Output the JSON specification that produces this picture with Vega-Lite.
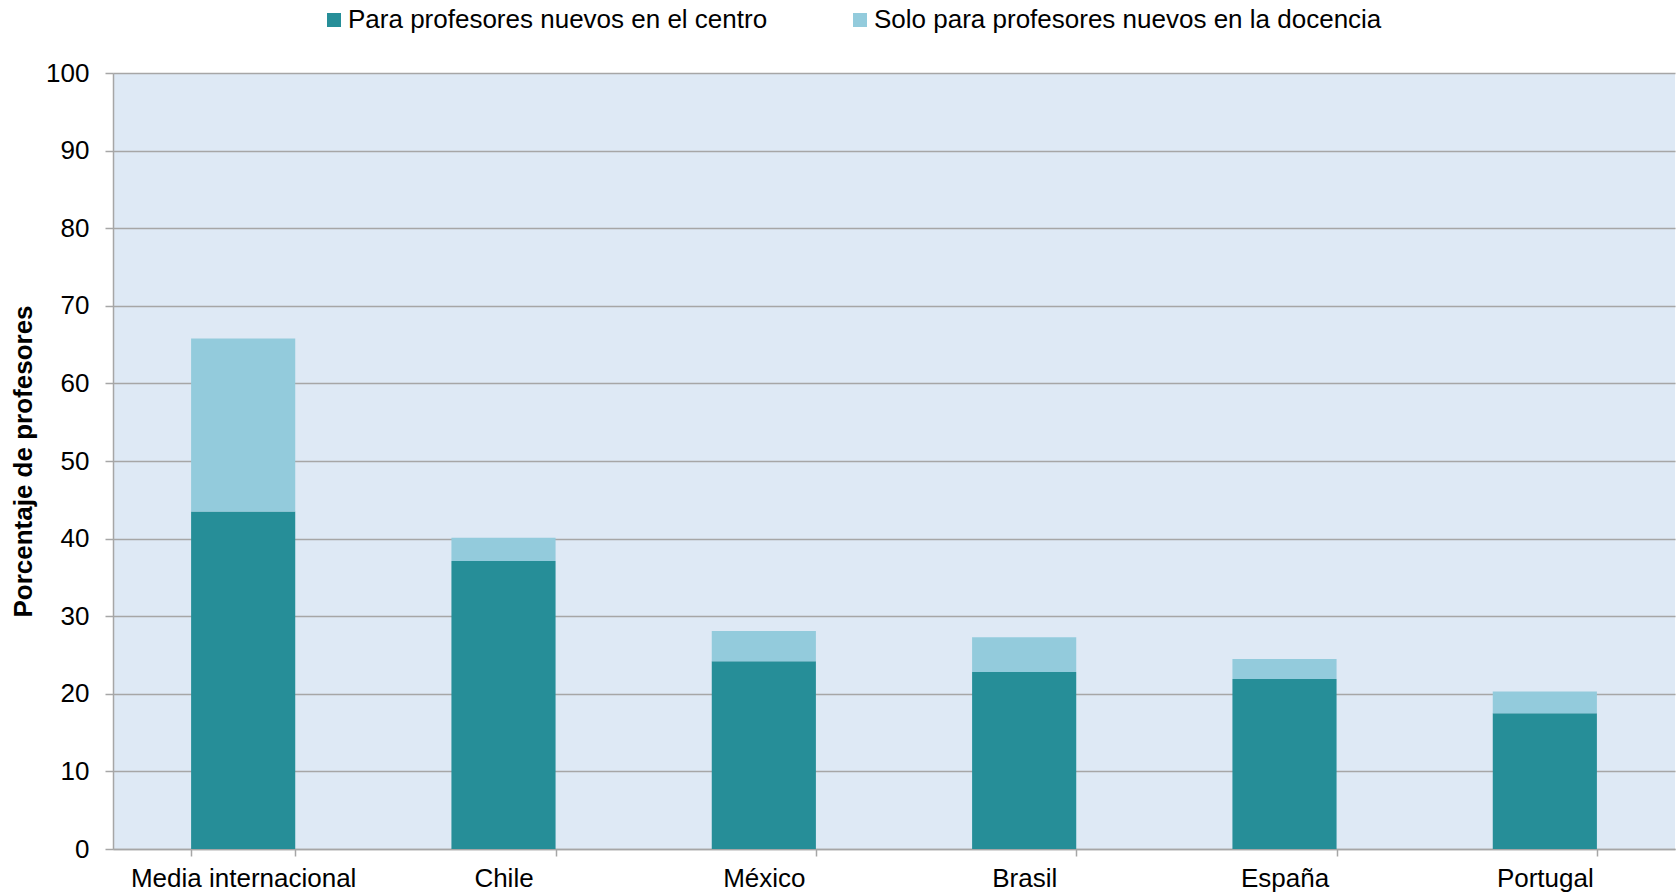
{
  "$schema": "https://vega.github.io/schema/vega-lite/v6.json",
  "width": 1562,
  "height": 776,
  "autosize": "none",
  "padding": {"left": 113, "top": 73, "right": 2, "bottom": 47},
  "background": "white",
  "config": {
    "view": {"fill": "#DEE9F5", "stroke": null},
    "font": "Liberation Sans",
    "axis": {
      "labelFont": "Liberation Sans",
      "labelFontSize": 26,
      "labelColor": "#000000",
      "labelLimit": 500,
      "domainColor": "#A6A6A6",
      "domainWidth": 1.5,
      "tickColor": "#A6A6A6",
      "tickWidth": 1.5,
      "gridColor": "#A6A6A6",
      "gridWidth": 1.5
    },
    "legend": {
      "labelFont": "Liberation Sans",
      "labelFontSize": 26,
      "labelColor": "#000000",
      "padding": 0
    }
  },
  "data": {
    "values": [
      {"pais": "Media internacional", "serie": "Para profesores nuevos en el centro", "valor": 43.5},
      {"pais": "Media internacional", "serie": "Solo para profesores nuevos en la docencia", "valor": 22.3},
      {"pais": "Chile", "serie": "Para profesores nuevos en el centro", "valor": 37.1},
      {"pais": "Chile", "serie": "Solo para profesores nuevos en la docencia", "valor": 3.0},
      {"pais": "México", "serie": "Para profesores nuevos en el centro", "valor": 24.2},
      {"pais": "México", "serie": "Solo para profesores nuevos en la docencia", "valor": 3.9},
      {"pais": "Brasil", "serie": "Para profesores nuevos en el centro", "valor": 22.8},
      {"pais": "Brasil", "serie": "Solo para profesores nuevos en la docencia", "valor": 4.5},
      {"pais": "España", "serie": "Para profesores nuevos en el centro", "valor": 21.9},
      {"pais": "España", "serie": "Solo para profesores nuevos en la docencia", "valor": 2.6},
      {"pais": "Portugal", "serie": "Para profesores nuevos en el centro", "valor": 17.5},
      {"pais": "Portugal", "serie": "Solo para profesores nuevos en la docencia", "valor": 2.8}
    ]
  },
  "mark": {"type": "bar"},
  "encoding": {
    "x": {
      "field": "pais",
      "type": "nominal",
      "sort": ["Media internacional", "Chile", "México", "Brasil", "España", "Portugal"],
      "scale": {"paddingInner": 0.6, "paddingOuter": 0.3},
      "axis": {
        "title": null,
        "labelAngle": 0,
        "tickBand": "extent",
        "tickSize": 7,
        "labelPadding": 9,
        "grid": false
      }
    },
    "y": {
      "field": "valor",
      "type": "quantitative",
      "stack": "zero",
      "scale": {"domain": [0, 100], "nice": false},
      "axis": {
        "values": [0, 10, 20, 30, 40, 50, 60, 70, 80, 90, 100],
        "title": "Porcentaje de profesores",
        "titleFont": "Liberation Sans",
        "titleFontSize": 26,
        "titleFontWeight": "bold",
        "titleColor": "#000000",
        "titleAngle": -90,
        "titleX": -90,
        "titleY": 388,
        "titleAlign": "center",
        "titleBaseline": "middle",
        "tickSize": 8,
        "labelPadding": 16,
        "grid": true
      }
    },
    "order": {"field": "serie", "type": "nominal", "sort": "ascending"},
    "color": {
      "field": "serie",
      "type": "nominal",
      "scale": {
        "domain": ["Para profesores nuevos en el centro", "Solo para profesores nuevos en la docencia"],
        "range": ["#268E98", "#93CBDC"]
      },
      "legend": {
        "title": null,
        "orient": "none",
        "direction": "horizontal",
        "legendX": 208,
        "legendY": -66,
        "symbolType": "square",
        "symbolSize": 196,
        "symbolStrokeWidth": 0,
        "labelOffset": 1,
        "columnPadding": 79,
        "labelLimit": 600
      }
    }
  }
}
